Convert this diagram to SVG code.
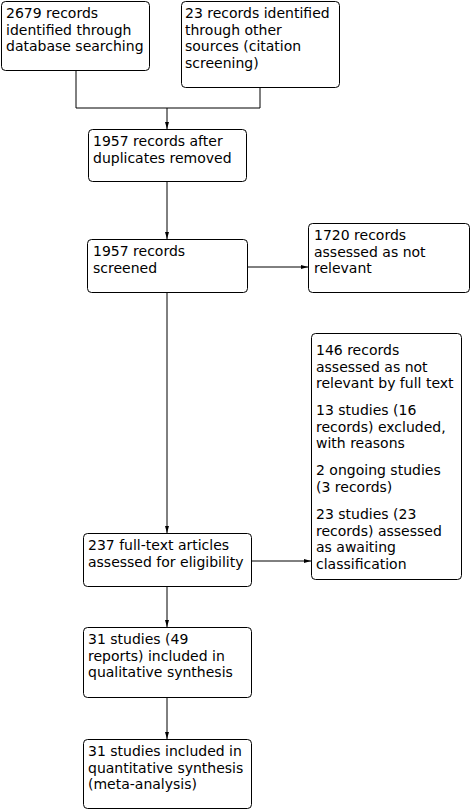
<svg xmlns="http://www.w3.org/2000/svg" width="472" height="809" viewBox="0 0 472 809">
<style>
.b{fill:#fff;stroke:#000;stroke-width:1}
.t{font-family:"DejaVu Sans",sans-serif;font-size:14px;fill:#000}
.c{fill:none;stroke:#000;stroke-width:1}
</style>
<defs>
<marker id="a" markerWidth="8" markerHeight="6" refX="7" refY="3" orient="auto" markerUnits="userSpaceOnUse">
<path d="M0,1 L7,3 L0,5 Z" fill="#000"/>
</marker>
</defs>
<rect width="472" height="809" fill="#fff"/>
<g id="connectors">
<path class="c" d="M76,70 V108 H260 V87"/>
<path class="c" d="M167,108 V129" marker-end="url(#a)"/>
<path class="c" d="M167,181 V239" marker-end="url(#a)"/>
<path class="c" d="M247,267 H308" marker-end="url(#a)"/>
<path class="c" d="M167,292 V533" marker-end="url(#a)"/>
<path class="c" d="M251,561 H311" marker-end="url(#a)"/>
<path class="c" d="M167,586 V627" marker-end="url(#a)"/>
<path class="c" d="M167,697 V739" marker-end="url(#a)"/>
</g>
<g id="n1"><rect class="b" x="1.5" y="1.5" width="148" height="69" rx="4"/>
<text class="t" x="6" y="18"><tspan x="6">2679 records</tspan><tspan x="6" dy="16.7">identified through</tspan><tspan x="6" dy="16.7">database searching</tspan></text></g>
<g id="n2"><rect class="b" x="181.5" y="1.5" width="158" height="86" rx="4"/>
<text class="t" x="185" y="18"><tspan x="185">23 records identified</tspan><tspan x="185" dy="16.7">through other</tspan><tspan x="185" dy="16.7">sources (citation</tspan><tspan x="185" dy="16.7">screening)</tspan></text></g>
<g id="n3"><rect class="b" x="88.5" y="129.5" width="158" height="52" rx="4"/>
<text class="t" x="93" y="146"><tspan x="93">1957 records after</tspan><tspan x="93" dy="16.7">duplicates removed</tspan></text></g>
<g id="n4"><rect class="b" x="87.5" y="239.5" width="160" height="53" rx="4"/>
<text class="t" x="93" y="256"><tspan x="93">1957 records</tspan><tspan x="93" dy="16.7">screened</tspan></text></g>
<g id="n5"><rect class="b" x="308.5" y="223.5" width="161" height="69" rx="4"/>
<text class="t" x="314" y="240"><tspan x="314">1720 records</tspan><tspan x="314" dy="16.7">assessed as not</tspan><tspan x="314" dy="16.7">relevant</tspan></text></g>
<g id="n6"><rect class="b" x="311.5" y="333.5" width="150" height="246" rx="4"/>
<text class="t"><tspan x="316" y="355">146 records</tspan><tspan x="316" dy="16.7">assessed as not</tspan><tspan x="316" dy="16.7">relevant by full text</tspan>
<tspan x="316" y="415">13 studies (16</tspan><tspan x="316" dy="16.7">records) excluded,</tspan><tspan x="316" dy="16.7">with reasons</tspan>
<tspan x="316" y="475">2 ongoing studies</tspan><tspan x="316" dy="16.7">(3 records)</tspan>
<tspan x="316" y="519">23 studies (23</tspan><tspan x="316" dy="16.7">records) assessed</tspan><tspan x="316" dy="16.7">as awaiting</tspan><tspan x="316" dy="16.7">classification</tspan></text></g>
<g id="n7"><rect class="b" x="83.5" y="533.5" width="168" height="53" rx="4"/>
<text class="t" x="88" y="550"><tspan x="88">237 full-text articles</tspan><tspan x="88" dy="16.7">assessed for eligibility</tspan></text></g>
<g id="n8"><rect class="b" x="83.5" y="627.5" width="168" height="70" rx="4"/>
<text class="t" x="88" y="644"><tspan x="88">31 studies (49</tspan><tspan x="88" dy="16.7">reports) included in</tspan><tspan x="88" dy="16.7">qualitative synthesis</tspan></text></g>
<g id="n9"><rect class="b" x="83.5" y="739.5" width="168" height="69" rx="4"/>
<text class="t" x="88" y="756"><tspan x="88">31 studies included in</tspan><tspan x="88" dy="16.7">quantitative synthesis</tspan><tspan x="88" dy="16.7">(meta-analysis)</tspan></text></g>
</svg>
